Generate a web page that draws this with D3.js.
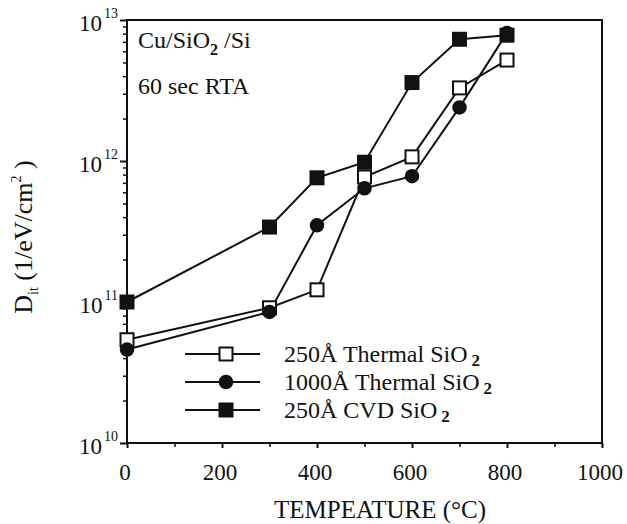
<!DOCTYPE html>
<html>
<head>
<meta charset="utf-8">
<script src="https://cdn.jsdelivr.net/npm/d3@7"></script>
<style>
  body { margin: 0; background: #fff; }
  text { font-family: "Liberation Serif", "Times New Roman", serif; fill: #111; }
</style>
</head>
<body>
<div id="chart"></div>
<script>
// données
const temps = [0, 300, 400, 500, 600, 700, 800];
const thermal250 = [5.4e10, 9.1e10, 1.22e11, 7.7e11, 1.07e12, 3.3e12, 5.2e12];
const thermal1000 = [4.6e10, 8.5e10, 3.5e11, 6.4e11, 7.8e11, 2.4e12, 8.1e12];
const cvd250 = [1.0e11, 3.4e11, 7.6e11, 9.8e11, 3.6e12, 7.3e12, 7.8e12];
const xTicks = [0, 200, 400, 600, 800, 1000];
const yExponents = [10, 11, 12, 13];
const legendLabels = ["250Å Thermal SiO", "1000Å Thermal SiO", "250Å CVD SiO"];

const width = 627, height = 524;
const margin = {top: 20, right: 25, bottom: 81, left: 127};

const svg = d3.select("#chart").append("svg")
  .attr("width", width)
  .attr("height", height);

const x = d3.scaleLinear().domain([0, 1000]).range([margin.left, width - margin.right]);
const y = d3.scaleLog().domain([1e10, 1e13]).range([height - margin.bottom, margin.top]);

// cadre
svg.append("rect")
  .attr("x", margin.left).attr("y", margin.top)
  .attr("width", x(1000) - x(0)).attr("height", y(1e10) - y(1e13))
  .attr("fill", "none").attr("stroke", "#111").attr("stroke-width", 2);

// axe x : graduations majeures et mineures
const xMinor = d3.range(100, 1000, 200);
svg.append("g")
  .attr("transform", `translate(0,${y(1e10)})`)
  .call(d3.axisBottom(x).tickValues(xTicks).tickSize(5).tickFormat(""))
  .call(g => g.select(".domain").remove())
  .call(g => g.selectAll("line").attr("stroke", "#111").attr("stroke-width", 2));
svg.append("g")
  .attr("transform", `translate(0,${y(1e10)})`)
  .call(d3.axisBottom(x).tickValues(xMinor).tickSize(4).tickFormat(""))
  .call(g => g.select(".domain").remove())
  .call(g => g.selectAll("line").attr("stroke", "#111").attr("stroke-width", 1.5));

svg.selectAll(".xlab")
  .data(xTicks)
  .enter().append("text")
  .attr("class", "xlab")
  .attr("x", d => x(d) - 2)
  .attr("y", y(1e10) + 37)
  .attr("text-anchor", "middle")
  .style("font-size", "23px")
  .text(d => d);

// axe y : décades et graduations mineures
const yMajor = yExponents.map(e => Math.pow(10, e));
const yMinor = [];
yExponents.slice(0, -1).forEach(e => {
  for (let k = 2; k <= 9; k++) yMinor.push(k * Math.pow(10, e));
});
svg.append("g")
  .attr("transform", `translate(${x(0)},0)`)
  .call(d3.axisLeft(y).tickValues(yMajor).tickSize(7).tickFormat(""))
  .call(g => g.select(".domain").remove())
  .call(g => g.selectAll("line").attr("stroke", "#111").attr("stroke-width", 2));
svg.append("g")
  .attr("transform", `translate(${x(0)},0)`)
  .call(d3.axisLeft(y).tickValues(yMinor).tickSize(4).tickFormat(""))
  .call(g => g.select(".domain").remove())
  .call(g => g.selectAll("line").attr("stroke", "#111").attr("stroke-width", 1.5));

const ylab = svg.selectAll(".ylab")
  .data(yExponents)
  .enter().append("text")
  .attr("class", "ylab")
  .attr("x", x(0) - 9)
  .attr("y", d => y(Math.pow(10, d)) + 11)
  .attr("text-anchor", "end")
  .style("font-size", "23px");
ylab.append("tspan").text("10");
ylab.append("tspan").attr("dx", 2).attr("dy", -13).style("font-size", "14px").text(d => d);

// titres des axes
svg.append("text")
  .attr("x", 380)
  .attr("y", 518)
  .attr("text-anchor", "middle")
  .style("font-size", "25px")
  .text("TEMPEATURE (°C)");

const yt = svg.append("text")
  .attr("transform", "translate(32,237) rotate(-90)")
  .attr("text-anchor", "middle")
  .style("font-size", "26px");
yt.append("tspan").text("D");
yt.append("tspan").attr("dy", 6).style("font-size", "14px").text("it");
yt.append("tspan").attr("dy", -6).text("  (1/eV/cm");
yt.append("tspan").attr("dy", -11).style("font-size", "14px").text("2");
yt.append("tspan").attr("dy", 11).text(" )");

// annotations
const a1 = svg.append("text").attr("x", 138).attr("y", 48).style("font-size", "24px");
a1.append("tspan").text("Cu/SiO");
a1.append("tspan").attr("dy", 7).style("font-size", "16px").style("font-weight", "bold").text("2");
a1.append("tspan").attr("dy", -7).text(" /Si");
svg.append("text").attr("x", 138).attr("y", 94).style("font-size", "24px").text("60 sec RTA");

// séries
const series = [
  {name: legendLabels[0], values: thermal250, shape: "square", fill: "#fff"},
  {name: legendLabels[1], values: thermal1000, shape: "circle", fill: "#111"},
  {name: legendLabels[2], values: cvd250, shape: "square", fill: "#111"}
];

const line = d3.line()
  .x((d, i) => x(temps[i]))
  .y(d => y(d));

function drawMarker(g, s, cx, cy) {
  if (s.shape === "circle") {
    g.append("circle").attr("cx", cx).attr("cy", cy).attr("r", 6.5)
      .attr("fill", s.fill).attr("stroke", "#111").attr("stroke-width", 1.5);
  } else {
    g.append("rect").attr("x", cx - 6.5).attr("y", cy - 6.5)
      .attr("width", 13).attr("height", 13)
      .attr("fill", s.fill).attr("stroke", "#111").attr("stroke-width", 2);
  }
}

series.forEach(s => {
  svg.append("path")
    .datum(s.values)
    .attr("d", line)
    .attr("fill", "none")
    .attr("stroke", "#111")
    .attr("stroke-width", 2);
});
series.forEach(s => {
  const g = svg.append("g");
  s.values.forEach((v, i) => drawMarker(g, s, x(temps[i]), y(v)));
});

// légende
series.forEach((s, i) => {
  const ly = 354 + i * 28;
  const g = svg.append("g");
  g.append("line").attr("x1", 185).attr("x2", 260).attr("y1", ly).attr("y2", ly)
    .attr("stroke", "#111").attr("stroke-width", 2);
  drawMarker(g, s, 226, ly);
  const t = g.append("text").attr("x", 284).attr("y", ly + 8).style("font-size", "24px");
  t.append("tspan").text(s.name);
  t.append("tspan").attr("dx", 4).attr("dy", 4).style("font-size", "17px").style("font-weight", "bold").text("2");
});
</script>
</body>
</html>
